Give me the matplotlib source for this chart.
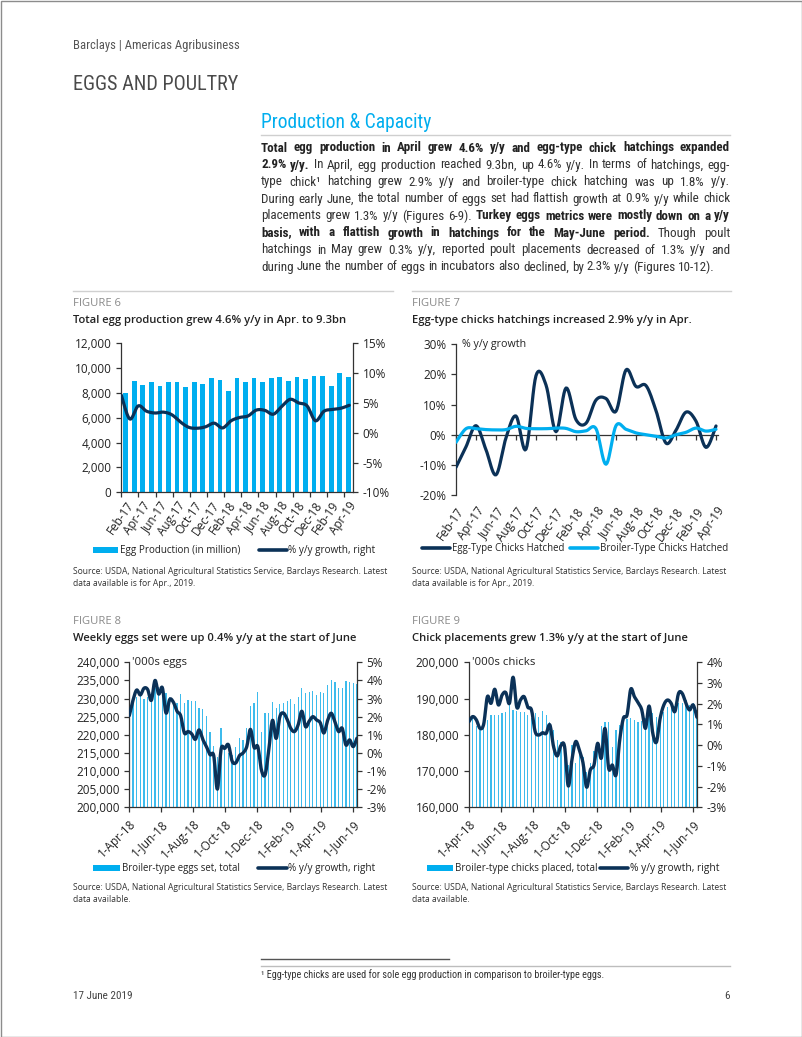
import numpy as np
import pandas as pd
import matplotlib
matplotlib.use('Agg')
import matplotlib.pyplot as plt
import matplotlib.dates as mdates
from matplotlib import font_manager
from matplotlib.transforms import Affine2D
from matplotlib.lines import Line2D
from matplotlib.patches import Rectangle
from matplotlib.ticker import FuncFormatter

# ---------------- data ----------------

# Figure 6: monthly egg production (million) and % y/y growth
fig6_months = pd.date_range('2017-02-01', '2019-04-01', freq='MS')
egg_production = [8027, 8966, 8671, 8886, 8590, 8886, 8886, 8483, 8886, 8752,
                  9181, 9047, 8161, 9181, 8886, 9181, 8886, 9181, 9262, 8966,
                  9262, 9101, 9369, 9369, 8590, 9584, 9262]
# the growth line runs on its own category axis (Jan-17 .. Apr-19)
egg_growth = [6.3, 2.3, 4.5, 3.6, 3.3, 3.45, 3.0, 1.8, 0.9, 0.75, 1.0, 1.6, 0.8,
              2.0, 2.55, 2.8, 3.8, 3.75, 3.1, 4.4, 5.6, 5.0, 4.5, 2.0, 3.6, 3.9,
              4.1, 4.6]

# Figure 7: chicks hatched, % y/y
egg_type_hatched = [-10.8, -4.0, 3.0, -5.0, -13.3, -1.0, 6.2, -4.8, 19.6, 16.5,
                    1.0, 15.5, 5.0, 3.8, 11.5, 12.0, 7.8, 21.5, 16.0, 16.3, 8.0,
                    -2.8, 1.5, 7.5, 4.5, -4.2, 2.9]
broiler_type_hatched = [-2.5, 2.0, 2.0, 1.7, 1.6, 1.7, 2.8, 2.1, 2.0, 2.0, 2.2,
                        2.1, 1.0, 1.3, 2.0, -9.8, 3.0, 1.8, 0.6, 0.0, -0.5, -1.1,
                        0.0, 0.8, 2.2, 1.2, 1.8]

# Figures 8 and 9: weekly data
weeks = pd.date_range('2018-04-01', periods=63, freq='7D')
eggs_set = np.array([
    225.5, 229.6, 230.5, 231.0, 230.0, 230.5, 229.6, 233.0, 233.3, 231.4,
    231.6, 230.5, 229.6, 228.7, 231.2, 228.7, 229.6, 229.3, 229.4, 227.3,
    227.0, 225.2, 220.9, 217.0, 214.0, 221.8, 215.8, 214.9, 214.4, 216.7,
    219.0, 218.6, 221.8, 228.0, 228.7, 231.9, 220.9, 226.0, 226.0, 229.0,
    227.4, 228.5, 228.7, 229.2, 230.0, 228.5, 230.5, 232.8, 231.4, 231.9,
    232.1, 231.1, 231.9, 231.4, 233.8, 235.1, 234.5, 232.8, 232.8, 234.8,
    234.5, 234.2, 234.0]) * 1000
eggs_set_growth = [
    2.06, 2.9, 3.47, 3.2, 3.57, 3.5, 2.9, 4.0, 3.25, 3.6,
    2.2, 2.95, 2.8, 2.3, 2.05, 1.1, 1.18, 1.05, 0.75, 1.27,
    0.75, 0.35, -0.1, -0.15, -2.0, 0.2, 0.25, 0.45, -0.45, -0.55,
    -0.15, 0.0, 0.35, 1.3, 0.3, 0.35, -0.95, -1.2, 0.17, 1.8,
    0.8, 2.0, 2.2, 1.85, 1.35, 1.18, 1.55, 2.3, 1.45, 1.75,
    2.0, 1.82, 1.67, 1.1, 1.78, 2.19, 1.73, 1.18, 1.36, 0.44,
    0.72, 0.35, 0.81]
chicks_placed = np.array([
    184.1, 184.5, 182.3, 181.3, 182.7, 184.1, 185.5, 185.5, 185.5, 185.9,
    186.4, 188.2, 186.8, 186.7, 186.4, 186.4, 185.5, 184.6, 185.9, 185.0,
    186.7, 185.5, 183.6, 181.3, 178.6, 178.1, 177.2, 171.7, 177.2, 172.1,
    176.3, 174.0, 169.8, 172.1, 175.4, 176.7, 182.3, 183.6, 183.6, 176.7,
    181.3, 182.7, 184.6, 184.3, 184.5, 184.1, 183.6, 183.9, 184.5, 186.4,
    185.9, 185.0, 185.9, 186.4, 187.8, 187.3, 187.9, 188.7, 188.9, 189.6,
    188.2, 188.7, 186.8]) * 1000
chicks_growth = [
    1.14, 1.38, 1.22, 0.81, 1.02, 2.34, 2.02, 2.7, 1.94, 2.42,
    2.54, 2.02, 3.28, 1.83, 2.18, 2.34, 1.83, 1.7, 0.65, 0.49,
    0.6, 0.57, 0.98, -0.07, -0.52, -0.02, -0.07, -1.97, -0.71, 0.17,
    -0.23, -0.84, -2.03, -1.2, -0.96, 0.09, -0.63, 0.81, -1.12, -0.96,
    -1.44, 0.25, 1.3, 1.46, 2.7, 2.34, 2.05, 1.7, 0.81, 1.89,
    0.57, 0.15, 1.3, 1.94, 2.18, 2.02, 1.62, 2.5, 2.5, 2.02,
    1.7, 1.94, 1.35]

# text of the page
body = [
    [("Total egg production in April grew 4.6% y/y and egg-type chick hatchings expanded", True)],
    [("2.9% y/y.", True), ("In April, egg production reached 9.3bn, up 4.6% y/y. In terms of hatchings, egg-", False)],
    [("type chick\u00b9 hatching grew 2.9% y/y and broiler-type chick hatching was up 1.8% y/y.", False)],
    [("During early June, the total number of eggs set had flattish growth at 0.9% y/y while chick", False)],
    [("placements grew 1.3% y/y (Figures 6-9).", False), ("Turkey eggs metrics were mostly down on a y/y", True)],
    [("basis, with a flattish growth in hatchings for the May-June period.", True), ("Though poult", False)],
    [("hatchings in May grew 0.3% y/y, reported poult placements decreased of 1.3% y/y and", False)],
    [("during June the number of eggs in incubators also declined, by 2.3% y/y (Figures 10-12).", False)],
]
source = "Source: USDA, National Agricultural Statistics Service, Barclays Research. Latest"

# ---------------- style ----------------
W, H = 802, 1037
CYAN = '#00AEEF'
NAVY = '#0B3157'
INK = '#222222'
BODY = '#333333'

avail = {f.name for f in font_manager.fontManager.ttflist}
def pick(names):
    for n in names:
        if n in avail:
            return n
    return 'DejaVu Sans'
NARROW = pick(['Liberation Sans Narrow', 'Roboto Condensed', 'Liberation Sans'])
CHART = pick(['Open Sans', 'Noto Sans', 'DejaVu Sans'])
plt.rcParams['font.family'] = CHART

fig = plt.figure(figsize=(W / 100, H / 100), dpi=100)
renderer = fig.canvas.get_renderer()
PX = Affine2D().scale(1 / W, -1 / H).translate(0, 1) + fig.transFigure


def put(x, y, s, **kw):
    kw.setdefault('va', 'center')
    return fig.text(x, y, s, transform=PX, **kw)


def width_of(s, size, **kw):
    t = fig.text(0, 0, s, fontsize=size, **kw)
    w = t.get_window_extent(renderer).width
    t.remove()
    return w


def size_for(s, width, **kw):
    return 10 * width / width_of(s, 10, **kw)


def hline(x0, x1, y, **kw):
    fig.add_artist(Line2D([x0, x1], [y, y], transform=PX, **kw))


def add_ax(l, t, r, b):
    return fig.add_axes([l / W, 1 - b / H, (r - l) / W, (b - t) / H])


def smooth(x, y, n=10):
    # Catmull-Rom curve through the points, like Excel's smoothed line
    P = np.column_stack([np.asarray(x, float), np.asarray(y, float)])
    P = np.vstack([P[0], P, P[-1]])
    t = np.linspace(0, 1, n, endpoint=False)[:, None]
    out = []
    for i in range(1, len(P) - 2):
        p0, p1, p2, p3 = P[i - 1], P[i], P[i + 1], P[i + 2]
        out.append(0.5 * (2 * p1 + (p2 - p0) * t + (2 * p0 - 5 * p1 + 4 * p2 - p3) * t ** 2
                          + (3 * p1 - p0 - 3 * p2 + p3) * t ** 3))
    out.append(P[-2][None])
    out = np.vstack(out)
    return out[:, 0], out[:, 1]


# page frame
fig.add_artist(Rectangle((0.5, 0.5), W - 1, H - 1, transform=PX, fill=False, ec='#8c8c8c', lw=1))

# ---------------- page header ----------------
s = size_for("Barclays | Americas Agribusiness", 165, family=NARROW)
put(73, 46, "Barclays | Americas Agribusiness", fontsize=s, family=NARROW, color='#555555')
s = size_for("EGGS AND POULTRY", 166, family=NARROW)
put(73, 84, "EGGS AND POULTRY", fontsize=s, family=NARROW, color='#4a4a4a')
s = size_for("Production & Capacity", 170, family=NARROW)
put(261, 122, "Production & Capacity", fontsize=s, family=NARROW, color=CYAN)
hline(261, 730, 135, color='#cfcfcf', lw=1)

# body text, justified
words_by_line = []
for segs in body:
    ws = []
    for txt, bold in segs:
        ws += [(w, bold) for w in txt.split()]
    words_by_line.append(ws)


def natural(ws, size):
    sp = width_of('a a', size, family=NARROW) - width_of('aa', size, family=NARROW)
    tot = sum(width_of(w, size, family=NARROW, fontweight='bold' if b else 'normal') for w, b in ws)
    return tot + sp * (len(ws) - 1), sp


nat10, _ = natural(words_by_line[-1], 10)
body_size = 10 * 451 / nat10
for i, ws in enumerate(words_by_line):
    y = 148 + 17 * i
    arts, widths = [], []
    for w, b in ws:
        t = put(261, y, w, fontsize=body_size, family=NARROW,
                fontweight='bold' if b else 'normal', color=INK if b else BODY)
        arts.append(t)
        widths.append(t.get_window_extent(renderer).width)
    _, sp = natural(ws[:1], body_size)
    last = i == len(words_by_line) - 1
    gap = sp if last else (730 - 261 - sum(widths)) / (len(ws) - 1)
    x = 261
    for t, w in zip(arts, widths):
        t.set_x(x)
        x += w + gap

hline(73, 393, 291, color='#d0d0d0', lw=1)
hline(412, 731, 291, color='#d0d0d0', lw=1)

# ---------------- shared chart text sizes ----------------
TICK = size_for("12,000", 37)
TITLE = size_for("Total egg production grew 4.6% y/y in Apr. to 9.3bn", 276, fontweight=600)
FIGL = size_for("FIGURE 6", 48)
SRC = size_for(source, 314)


def headers(x, y, num, title):
    put(x, y, f"FIGURE {num}", fontsize=FIGL, color='#8a8a8a')
    put(x, y + 17, title, fontsize=TITLE, fontweight=600, color=INK)


def sources(x, y, second):
    put(x, y, source, fontsize=SRC, color='#333333')
    put(x, y + 12, second, fontsize=SRC, color='#333333')


def legend_patch(x0, x1, y, label, w):
    fig.add_artist(Rectangle((x0, y - 3), x1 - x0, 6, transform=PX, color=CYAN, lw=0))
    put(x1 + 2, y, label, fontsize=min(size_for(label, w), 8.2), color=INK)


def legend_line(x0, x1, y, label, color, w):
    fig.add_artist(Line2D([x0, x1], [y, y], transform=PX, color=color, lw=2.6,
                          solid_capstyle='round'))
    put(x1 + 1.5, y, label, fontsize=min(size_for(label, w), 8.2), color=INK)


def style(ax, sides):
    for k, sp in ax.spines.items():
        sp.set_visible(k in sides)
        sp.set_color('#333333')
        sp.set_linewidth(0.9)
    ax.tick_params(which='both', direction='out', color='#333333', width=0.9,
                   labelsize=TICK, labelcolor=INK)
    ax.patch.set_alpha(0)


pct = FuncFormatter(lambda v, p: f"{v:.0f}%")
thou = FuncFormatter(lambda v, p: f"{v:,.0f}")

# ---------------- Figure 6 ----------------
headers(73, 304, 6, "Total egg production grew 4.6% y/y in Apr. to 9.3bn")
ax = add_ax(121.3, 343.3, 352.7, 492.3)
xi = np.arange(len(egg_production))
ax.bar(xi, egg_production, width=0.55, color=CYAN, zorder=2)
ax.set_xlim(-0.5, 26.5)
ax.set_ylim(0, 12000)
ax.set_yticks(range(0, 12001, 2000))
ax.yaxis.set_major_formatter(thou)
ax.set_xticks(xi[::2])
ax.set_xticklabels([f"{m:%b-%y}" for m in fig6_months[::2]], rotation=55,
                   ha='right', va='top', rotation_mode='anchor')
ax.set_xticks(np.arange(-0.5, 26, 2), minor=True)
style(ax, ['left', 'bottom'])
ax.tick_params(axis='both', which='both', length=3.5)
ax.tick_params(axis='x', which='major', length=0, pad=5)
ax2 = ax.twinx()
lx, ly = smooth(np.linspace(-0.5, 26.1, len(egg_growth)), egg_growth)
ax2.plot(lx, ly, color=NAVY, lw=2.3, solid_capstyle='round', zorder=3)
ax2.set_ylim(-10, 15)
ax2.set_yticks(range(-10, 16, 5))
ax2.yaxis.set_major_formatter(pct)
style(ax2, ['right'])
ax2.tick_params(length=3.5)
legend_patch(93, 118, 550, "Egg Production (in million)", 121)
legend_line(259, 287, 550, "% y/y growth, right", NAVY, 87)
sources(73, 572, "data available is for Apr., 2019.")

# ---------------- Figure 7 ----------------
headers(412, 304, 7, "Egg-type chicks hatchings increased 2.9% y/y in Apr.")
ax = add_ax(456, 344.3, 718, 495)
xi = np.arange(len(egg_type_hatched))
bx, by = smooth(xi, broiler_type_hatched)
ex, ey = smooth(xi, egg_type_hatched)
ax.plot(ex, ey, color=NAVY, lw=2.3, solid_capstyle='round', zorder=3)
ax.plot(bx, by, color=CYAN, lw=2.3, solid_capstyle='round', zorder=4)
ax.set_xlim(0, 26.2)
ax.set_ylim(-20, 30)
ax.set_yticks(range(-20, 31, 10))
ax.yaxis.set_major_formatter(pct)
ax.set_xticks(xi[::2])
ax.set_xticklabels([f"{m:%b-%y}" for m in fig6_months[::2]], rotation=55,
                   ha='right', va='top', rotation_mode='anchor')
style(ax, ['left'])
ax.tick_params(axis='y', length=3.5)
ax.tick_params(axis='x', length=0, pad=7)
zero = ax.secondary_xaxis(0.4)
zero.set_xticks(xi[::2])
zero.tick_params(axis='x', direction='out', length=3.5, width=0.9, color='#333333',
                 labelbottom=False, labeltop=False)
for k, sp in zero.spines.items():
    sp.set_color('#333333')
    sp.set_linewidth(0.9)
put(462, 344.3, "% y/y growth", fontsize=size_for("% y/y growth", 64), color=INK)
legend_line(422, 450, 548, "Egg-Type Chicks Hatched", NAVY, 112)
legend_line(570, 598, 548, "Broiler-Type Chicks Hatched", CYAN, 127)
sources(412, 572, "data available is for Apr., 2019.")

# ---------------- Figures 8 and 9 (weekly) ----------------
date_ticks = pd.date_range('2018-04-01', '2019-06-01', freq='2MS')
date_labels = [f"{d.day}-{d:%b-%y}" for d in date_ticks]


def weekly(l, r, bars, growth, ylo, yhi, ystep, glo, ghi, unit):
    ax = add_ax(l, 662.3, r, 807.3)
    ax.bar(weeks, bars, width=2.4, color='#3DBBEC', zorder=2)
    ax.set_xlim(weeks[0], weeks[-1])
    ax.set_ylim(ylo, yhi)
    ax.set_yticks(np.arange(ylo, yhi + 1, ystep))
    ax.yaxis.set_major_formatter(thou)
    ax.set_xticks(date_ticks)
    ax.set_xticklabels(date_labels, rotation=45, ha='right', va='top',
                       rotation_mode='anchor')
    style(ax, ['left', 'bottom'])
    ax.tick_params(length=3.5)
    ax.tick_params(axis='x', pad=4)
    ax2 = ax.twinx()
    gx, gy = smooth(mdates.date2num(weeks), growth)
    ax2.plot(gx, gy, color=NAVY, lw=2.4, solid_capstyle='round', zorder=3)
    ax2.set_xlim(ax.get_xlim())
    ax2.set_ylim(glo, ghi)
    ax2.set_yticks(range(glo, ghi + 1))
    ax2.yaxis.set_major_formatter(pct)
    style(ax2, ['right'])
    ax2.tick_params(length=3.5)
    put(l + 2.5, 662.3, unit, fontsize=size_for("'000s eggs", 55), color=INK)
    return ax


headers(73, 621.7, 8, "Weekly eggs set were up 0.4% y/y at the start of June")
weekly(129.3, 356.9, eggs_set, eggs_set_growth, 200000, 240000, 5000, -3, 5, "'000s eggs")
legend_patch(93, 120, 868, "Broiler-type eggs set, total", 117)
legend_line(258, 287, 868, "% y/y growth, right", NAVY, 87)
sources(73, 888, "data available.")

headers(412, 621.7, 9, "Chick placements grew 1.3% y/y at the start of June")
weekly(469, 696.9, chicks_placed, chicks_growth, 160000, 200000, 10000, -3, 4, "'000s chicks")
legend_patch(427, 453, 868, "Broiler-type chicks placed, total", 142)
legend_line(600, 628, 868, "% y/y growth, right", NAVY, 90)
sources(412, 888, "data available.")

# ---------------- footer ----------------
hline(261, 449, 959, color='#555555', lw=1)
hline(261, 730, 966, color='#bdbdbd', lw=1)
foot = "\u00b9 Egg-type chicks are used for sole egg production in comparison to broiler-type eggs."
put(261, 975, foot, fontsize=size_for(foot, 339, family=NARROW), family=NARROW, color=BODY)
put(73, 996, "17 June 2019", fontsize=size_for("17 June 2019", 59, family=NARROW),
    family=NARROW, color='#444444')
put(730, 996, "6", fontsize=size_for("17 June 2019", 59, family=NARROW),
    family=NARROW, color='#444444', ha='right')

fig.savefig('out.png', dpi=100)
